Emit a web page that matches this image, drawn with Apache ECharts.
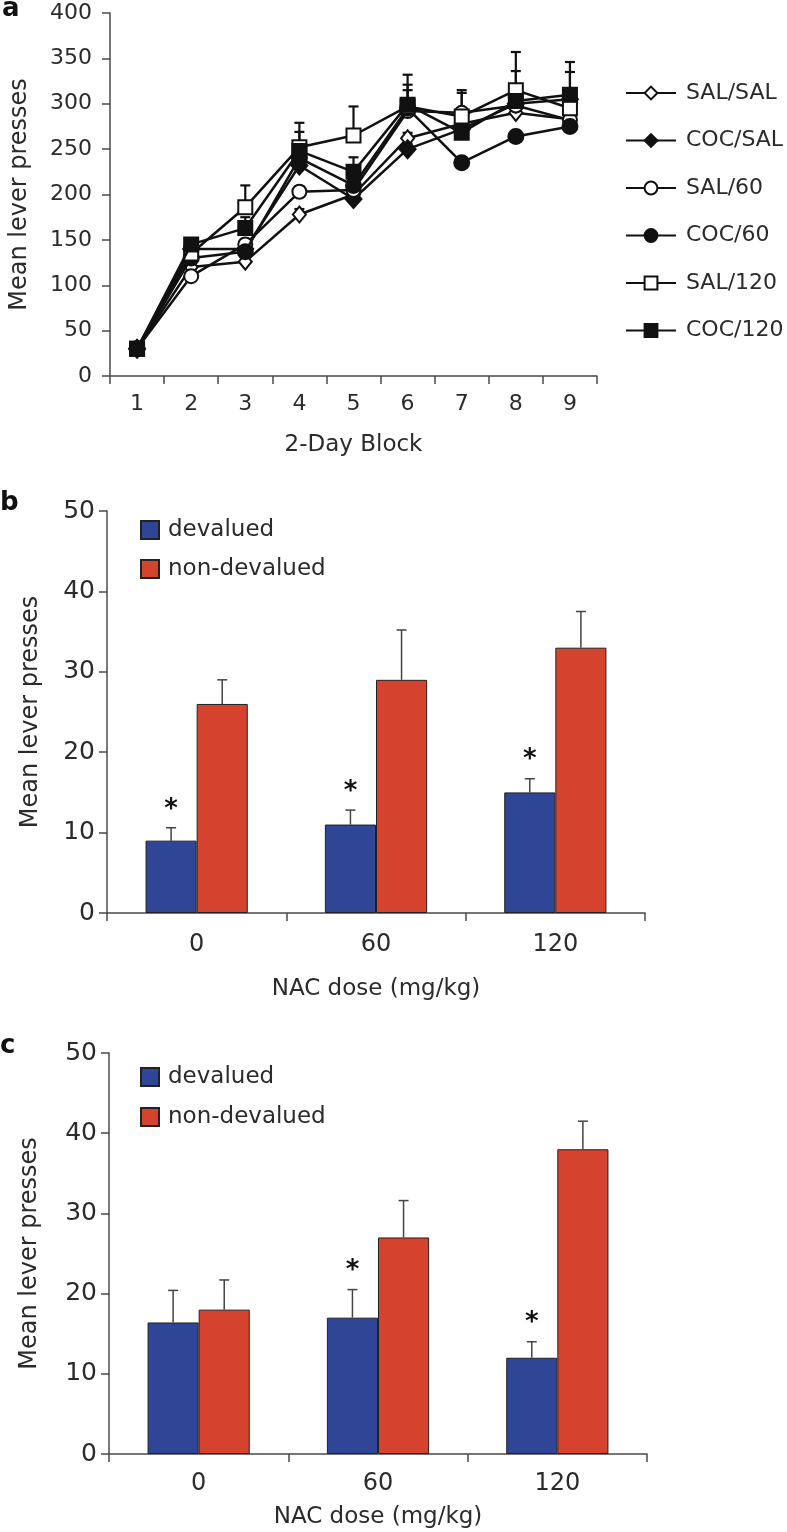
<!DOCTYPE html>
<html>
<head>
<meta charset="utf-8">
<script src="https://cdn.jsdelivr.net/npm/echarts@6/dist/echarts.min.js"></script>
<style>html,body{margin:0;padding:0;background:#fff}#chart{width:787px;height:1532px}</style>
</head>
<body>
<div id="chart"></div>
<script>
// ---------- Panel a data ----------
const blocks = ['1','2','3','4','5','6','7','8','9'];
const lineNames = ['SAL/SAL','COC/SAL','SAL/60','COC/60','SAL/120','COC/120'];
const salSal   = [30,120,126,178,200,262,278,290,283];
const cocSal   = [30,140,140,232,195,250,272,300,305];
const sal60    = [30,110,145,203,205,292,290,298,282];
const coc60    = [30,130,137,240,210,295,235,264,275];
const sal120   = [30,135,186,252,265,297,286,315,295];
const coc120   = [30,145,163,248,225,299,268,303,310];
const salSalErr = [2,5,5,6,6,6,6,6,6];
const cocSalErr = [2,5,6,6,6,6,6,6,30];
const sal60Err  = [2,5,6,6,6,6,25,6,6];
const coc60Err  = [2,5,6,6,6,26,6,6,6];
const sal120Err = [2,5,24,17,32,18,26,42,6];
const coc120Err = [2,7,12,31,16,33,6,33,36];
const aTicks = {min:0, max:400, interval:50};

// ---------- Panels b & c data ----------
const doses = ['0','60','120'];
const barNames = ['devalued','non-devalued'];
const bDevalued = [9,11,15];
const bDevaluedErr = [1.6,1.8,1.7];
const bNonDev = [26,29,33];
const bNonDevErr = [3,6.2,4.5];
const bStars = [1,1,1];
const cDevalued = [16.4,17,12];
const cDevaluedErr = [4,3.5,2];
const cNonDev = [18,27,38];
const cNonDevErr = [3.7,4.6,3.5];
const cStars = [0,1,1];
const bcTicks = {min:0, max:50, interval:10};

const FONT = 'DejaVu Sans';
const TXT = '#2b2b2b';
const AX = '#4a4a4a';
const BLUE = '#2f4596';
const RED = '#d5432f';
const BAR_GAP_PCT = 0.43;

const lineVals = [salSal,cocSal,sal60,coc60,sal120,coc120];
const lineErrs = [salSalErr,cocSalErr,sal60Err,coc60Err,sal120Err,coc120Err];
const symbols = [
  {symbol:'diamond', size:[13,16], fill:'#fff'},
  {symbol:'diamond', size:[16,18], fill:'#111'},
  {symbol:'circle', size:14, fill:'#fff'},
  {symbol:'circle', size:15, fill:'#111'},
  {symbol:'rect', size:14, fill:'#fff'},
  {symbol:'rect', size:14, fill:'#111'}
];

function axisCommon(fontSize){
  return {
    axisLine:{show:true, lineStyle:{color:AX, width:1.5}},
    axisTick:{show:true, length:8, lineStyle:{color:AX, width:1.5}},
    splitLine:{show:false},
    axisLabel:{color:TXT, fontFamily:FONT, fontSize:fontSize}
  };
}

const series = [];
// error bars for panel a
const aErrData = [];
lineVals.forEach((vals, s) => vals.forEach((v, i) => aErrData.push([i, v, lineErrs[s][i]])));
series.push({
  type:'custom', xAxisIndex:0, yAxisIndex:0, z:1, silent:true,
  data:aErrData,
  renderItem:function(params, api){
    const base = api.coord([api.value(0), api.value(1)]);
    const top = api.coord([api.value(0), api.value(1) + api.value(2)]);
    return {type:'group', children:[
      {type:'line', shape:{x1:base[0], y1:base[1], x2:top[0], y2:top[1]}, style:{stroke:'#111', lineWidth:2.2}},
      {type:'line', shape:{x1:top[0]-5, y1:top[1], x2:top[0]+5, y2:top[1]}, style:{stroke:'#111', lineWidth:2.2}}
    ]};
  }
});
lineNames.forEach((name, s) => {
  series.push({
    name:name, type:'line', xAxisIndex:0, yAxisIndex:0, z:2+s,
    data:lineVals[s],
    symbol:symbols[s].symbol, symbolSize:symbols[s].size, showAllSymbol:true,
    lineStyle:{color:'#111', width:2.5},
    itemStyle:{color:symbols[s].fill, borderColor:'#111', borderWidth:2},
    emphasis:{disabled:true}
  });
});

function barPanel(xi, dev, devErr, non, nonErr, stars){
  series.push({name:'devalued', type:'bar', xAxisIndex:xi, yAxisIndex:xi, data:dev,
    barGap:'0%', barCategoryGap:(BAR_GAP_PCT*100)+'%',
    itemStyle:{color:BLUE, borderColor:'#222', borderWidth:1}, emphasis:{disabled:true}});
  series.push({name:'non-devalued', type:'bar', xAxisIndex:xi, yAxisIndex:xi, data:non,
    barGap:'0%', barCategoryGap:(BAR_GAP_PCT*100)+'%',
    itemStyle:{color:RED, borderColor:'#222', borderWidth:1}, emphasis:{disabled:true}});
  const d = [];
  dev.forEach((v,i)=>d.push([i, v, devErr[i], -1, stars[i]]));
  non.forEach((v,i)=>d.push([i, v, nonErr[i], 1, 0]));
  series.push({type:'custom', xAxisIndex:xi, yAxisIndex:xi, z:5, silent:true, data:d,
    renderItem:function(params, api){
      const cat = api.value(0), val = api.value(1), err = api.value(2), side = api.value(3), star = api.value(4);
      const base = api.coord([cat, val]);
      const top = api.coord([cat, val + err]);
      const band = api.size([1, 0])[0];
      const barW = band * (1 - BAR_GAP_PCT) / 2;
      const x = base[0] + side * barW / 2;
      const ch = [
        {type:'line', shape:{x1:x, y1:base[1], x2:x, y2:top[1]}, style:{stroke:'#444', lineWidth:1.5}},
        {type:'line', shape:{x1:x-5, y1:top[1], x2:x+5, y2:top[1]}, style:{stroke:'#444', lineWidth:1.5}}
      ];
      if (star) ch.push({type:'text', style:{text:'*', x:x, y:top[1]-18, align:'center', verticalAlign:'middle',
        font:'bold 26px "' + FONT + '"', fill:'#111'}});
      return {type:'group', children:ch};
    }});
}
barPanel(1, bDevalued, bDevaluedErr, bNonDev, bNonDevErr, bStars);
barPanel(2, cDevalued, cDevaluedErr, cNonDev, cNonDevErr, cStars);

const option = {
  animation:false,
  backgroundColor:'#fff',
  textStyle:{fontFamily:FONT},
  graphic:[
    {type:'text', left:2, top:-4, style:{text:'a', font:'bold 26px "'+FONT+'"', fill:'#111'}},
    {type:'text', left:0, top:490, style:{text:'b', font:'bold 26px "'+FONT+'"', fill:'#111'}},
    {type:'text', left:0, top:1033, style:{text:'c', font:'bold 26px "'+FONT+'"', fill:'#111'}}
  ],
  legend:[
    {data:lineNames, orient:'vertical', left:625, top:81, padding:0, itemWidth:50, itemHeight:16, itemGap:23.5,
      textStyle:{fontFamily:FONT, fontSize:22, color:TXT, lineHeight:24, padding:[0,0,0,5]}, selectedMode:false},
    {data:barNames, orient:'vertical', left:140, top:518, padding:0, itemWidth:18, itemHeight:18, itemGap:15, icon:'rect',
      textStyle:{fontFamily:FONT, fontSize:23, color:TXT, lineHeight:24, padding:[0,0,0,4]}, selectedMode:false},
    {data:barNames, orient:'vertical', left:140, top:1065, padding:0, itemWidth:18, itemHeight:18, itemGap:16, icon:'rect',
      textStyle:{fontFamily:FONT, fontSize:23, color:TXT, lineHeight:24, padding:[0,0,0,4]}, selectedMode:false}
  ],
  grid:[
    {left:105, top:13, width:492, height:363},
    {left:107, top:511, width:538, height:402},
    {left:109, top:1053, width:538, height:401}
  ],
  xAxis:[
    Object.assign(axisCommon(22), {type:'category', gridIndex:0, data:blocks, boundaryGap:true,
      name:'2-Day Block', nameLocation:'middle', nameGap:58,
      nameTextStyle:{fontFamily:FONT, fontSize:23, color:TXT}}),
    Object.assign(axisCommon(24), {type:'category', gridIndex:1, data:doses, boundaryGap:true,
      name:'NAC dose (mg/kg)', nameLocation:'middle', nameGap:65,
      nameTextStyle:{fontFamily:FONT, fontSize:23, color:TXT}}),
    Object.assign(axisCommon(24), {type:'category', gridIndex:2, data:doses, boundaryGap:true,
      name:'NAC dose (mg/kg)', nameLocation:'middle', nameGap:52,
      nameTextStyle:{fontFamily:FONT, fontSize:23, color:TXT}})
  ],
  yAxis:[
    Object.assign(axisCommon(22), {type:'value', gridIndex:0, min:aTicks.min, max:aTicks.max, interval:aTicks.interval,
      name:'Mean lever presses', nameLocation:'middle', nameGap:78, nameRotate:90,
      nameTextStyle:{fontFamily:FONT, fontSize:24, color:TXT}}),
    Object.assign(axisCommon(25), {type:'value', gridIndex:1, min:bcTicks.min, max:bcTicks.max, interval:bcTicks.interval,
      name:'Mean lever presses', nameLocation:'middle', nameGap:64, nameRotate:90,
      nameTextStyle:{fontFamily:FONT, fontSize:24, color:TXT}}),
    Object.assign(axisCommon(25), {type:'value', gridIndex:2, min:bcTicks.min, max:bcTicks.max, interval:bcTicks.interval,
      name:'Mean lever presses', nameLocation:'middle', nameGap:67, nameRotate:90,
      nameTextStyle:{fontFamily:FONT, fontSize:24, color:TXT}})
  ],
  series:series
};
option.xAxis[0].axisLabel.margin = 17;
option.xAxis[1].axisLabel.margin = 20;
option.xAxis[2].axisLabel.margin = 18;
option.yAxis[0].axisLabel.margin = 18;
option.yAxis[1].axisLabel.margin = 12;
option.yAxis[2].axisLabel.margin = 12;

const chart = echarts.init(document.getElementById('chart'), null, {renderer:'canvas'});
chart.setOption(option);
</script>
</body>
</html>
